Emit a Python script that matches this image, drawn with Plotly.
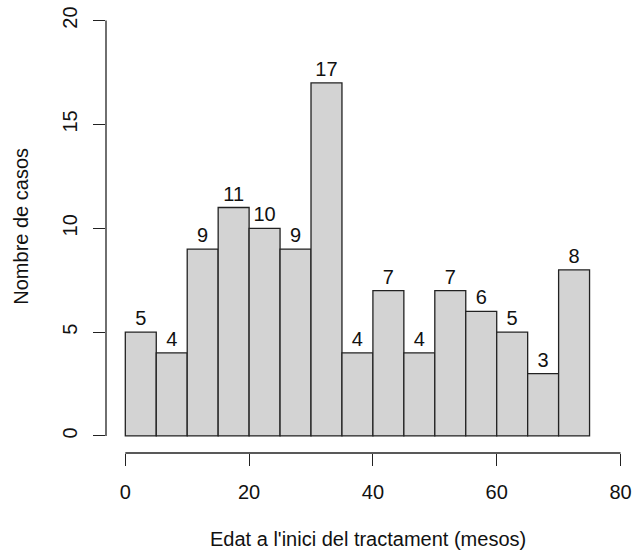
import plotly.graph_objects as go

breaks = [0, 5, 10, 15, 20, 25, 30, 35, 40, 45, 50, 55, 60, 65, 70, 75]
counts = [5, 4, 9, 11, 10, 9, 17, 4, 7, 4, 7, 6, 5, 3, 8]
x_ticks = [0, 20, 40, 60, 80]
y_ticks = [0, 5, 10, 15, 20]
x_title = "Edat a l'inici del tractament (mesos)"
y_title = "Nombre de casos"

mids = [(a + b) / 2 for a, b in zip(breaks[:-1], breaks[1:])]
widths = [b - a for a, b in zip(breaks[:-1], breaks[1:])]

FONT = "Arial, Liberation Sans, sans-serif"
FS = 20

fig = go.Figure()
fig.add_trace(go.Bar(
    x=mids, y=counts, width=widths,
    marker=dict(color="#D3D3D3", line=dict(color="#222222", width=1.3)),
    text=[str(c) for c in counts], textposition="outside",
    textfont=dict(family=FONT, size=FS, color="#111111"),
    constraintext="none", cliponaxis=False,
))

fig.update_layout(
    width=634, height=557,
    margin=dict(l=106, r=0, t=4, b=104, autoexpand=False),
    plot_bgcolor="white", paper_bgcolor="white",
    showlegend=False,
    font=dict(family=FONT, size=FS, color="#111111"),
    xaxis=dict(range=[-3.12, 82.18], tickvals=x_ticks, ticktext=[str(v) for v in x_ticks],
               ticks="outside", ticklen=12, tickwidth=1.3, tickcolor="#222222",
               showgrid=False, zeroline=False, showline=False, automargin=False,
               ticklabelstandoff=9),
    yaxis=dict(range=[-0.82, 20.8], tickvals=y_ticks, ticktext=[str(v) for v in y_ticks],
               ticks="outside", ticklen=12, tickwidth=1.3, tickcolor="#222222",
               showgrid=False, zeroline=False, showline=False, automargin=False,
               tickangle=-90, ticklabelstandoff=8, ticklabeloverflow="allow"),
    shapes=[
        dict(type="line", xref="paper", yref="y", x0=0, x1=0, y0=y_ticks[0], y1=y_ticks[-1],
             line=dict(color="#222222", width=1.3)),
        dict(type="line", xref="x", yref="paper", x0=x_ticks[0], x1=x_ticks[-1], y0=0, y1=0,
             line=dict(color="#222222", width=1.3)),
    ],
    annotations=[
        dict(text=x_title, xref="paper", yref="paper", x=0.497, y=0, xanchor="center",
             yanchor="middle", yshift=-86, showarrow=False, font=dict(size=FS)),
        dict(text=y_title, xref="paper", yref="paper", x=0, y=0.504, xanchor="center",
             yanchor="middle", xshift=-85, textangle=-90, showarrow=False, font=dict(size=FS)),
    ],
)

fig.write_html(
    "out.html",
    config={"displayModeBar": False},
    post_script="document.body.style.margin='0px';document.body.style.overflow='hidden';",
)
